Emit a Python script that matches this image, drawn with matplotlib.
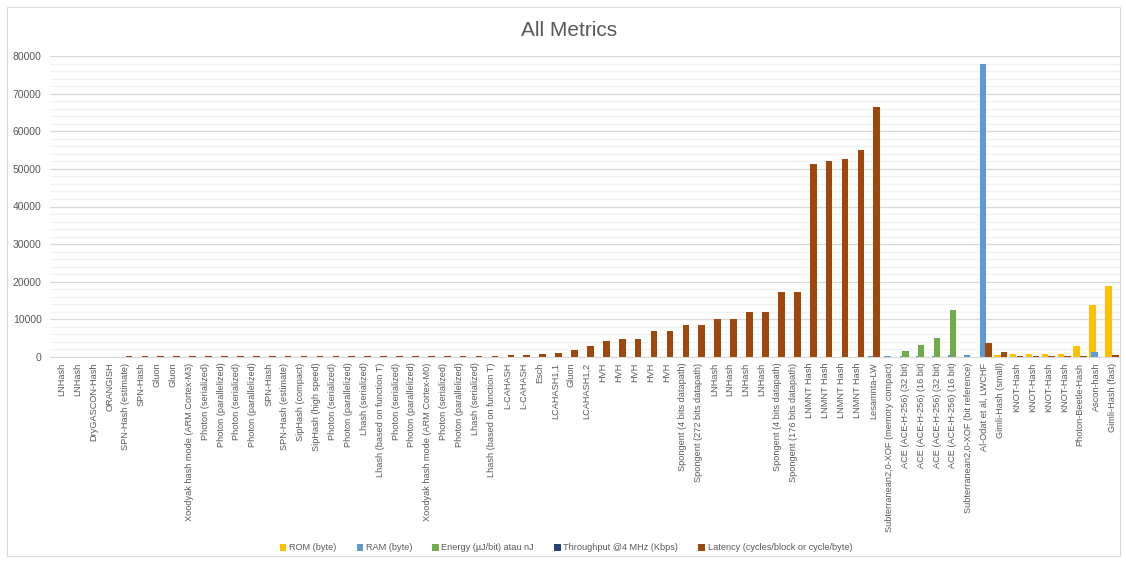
import numpy as np
import matplotlib
matplotlib.use("Agg")
import matplotlib.pyplot as plt
from matplotlib.patches import Rectangle

plt.rcParams["font.family"] = ["Liberation Sans", "DejaVu Sans"]

# ---- data ----
schemes = [
    "LNHash", "LNHash", "DryGASCON-Hash", "ORANGISH", "SPN-Hash (estimate)",
    "SPN-Hash", "Gluon", "Gluon", "Xoodyak hash mode (ARM Cortex-M3)",
    "Photon (serialized)", "Photon (parallelized)", "Photon (serialized)",
    "Photon (parallelized)", "SPN-Hash", "SPN-Hash (estimate)", "SipHash (compact)",
    "SipHash (high speed)", "Photon (serialized)", "Photon (parallelized)",
    "Lhash (serialized)", "Lhash (based on function T)", "Photon (serialized)",
    "Photon (parallelized)", "Xoodyak hash mode (ARM Cortex-M0)", "Photon (serialized)",
    "Photon (parallelized)", "Lhash (serialized)", "Lhash (based on function T)",
    "L-CAHASH", "L-CAHASH", "Esch", "LCAHASH1,1", "Gluon", "LCAHASH1,2",
    "HVH", "HVH", "HVH", "HVH", "HVH",
    "Spongent (4 bits datapath)", "Spongent (272 bits datapath)",
    "LNHash", "LNHash", "LNHash", "LNHash",
    "Spongent (4 bits datapath)", "Spongent (176 bits datapath)",
    "LNMNT Hash", "LNMNT Hash", "LNMNT Hash", "LNMNT Hash", "Lesamnta-LW",
    "Subterranean2,0-XOF (memory compact)", "ACE (ACE-H-256) (32 bit)",
    "ACE (ACE-H-256) (16 bit)", "ACE (ACE-H-256) (32 bit)", "ACE (ACE-H-256) (16 bit)",
    "Subterranean2,0-XOF (bit reference)", "Al-Odat et al, LWCHF", "Gimli-Hash (small)",
    "KNOT-Hash", "KNOT-Hash", "KNOT-Hash", "KNOT-Hash", "Photon-Beetle-Hash",
    "Ascon-hash", "Gimli-Hash (fast)",
]

rom = [0] * 59 + [650, 900, 900, 900, 900, 3000, 13700, 19000]

ram = [0] * 51 + [200, 300, 300, 300, 300, 400, 600, 78000, 0,
                  0, 0, 0, 0, 0, 1300, 0]

energy = [0] * 53 + [1500, 3300, 5000, 12500] + [0] * 10

throughput = [0] * 67

latency = [
    0, 0, 0, 0, 200, 210, 210, 220, 220, 230, 230, 230, 240, 240, 240, 250,
    250, 250, 260, 260, 270, 270, 280, 280, 290, 320, 350, 380, 420, 500,
    800, 1000, 1900, 2800, 4200, 4900, 4900, 7000, 7000, 8500, 8500,
    10200, 10200, 12000, 12000, 17200, 17200,
    51200, 52000, 52700, 55100, 66400,
    0, 0, 0, 0, 0, 0, 3700, 1450, 250, 250, 250, 250, 250, 0, 650,
]

series_names = ["ROM (byte)", "RAM (byte)", "Energy (µJ/bit) atau nJ",
                "Throughput @4 MHz (Kbps)", "Latency (cycles/block or cycle/byte)"]
series_vals = [rom, ram, energy, throughput, latency]
series_colors = ["#FFC000", "#5B9BD5", "#70AD47", "#264478", "#9E480E"]

# ---- figure ----
fig = plt.figure(figsize=(11.26, 5.62), dpi=100)
ax = fig.add_axes([50 / 1126, (562 - 357) / 562, 1070 / 1126, 301 / 562])

x = np.arange(len(schemes))
step = 0.108
width = 0.42
for k, (name, vals, col) in enumerate(zip(series_names, series_vals, series_colors)):
    ax.bar(x + (k - 2) * step, vals, width=width, color=col, label=name,
           zorder=3 + k, linewidth=0)

ax.set_xlim(-0.75, len(schemes) - 0.5)
ax.set_ylim(0, 80000)
ax.set_yticks(np.arange(0, 80001, 10000))
ax.set_yticks(np.arange(0, 80001, 2000), minor=True)
ax.grid(axis="y", which="major", color="#d9d9d9", linewidth=0.9, zorder=0)
ax.grid(axis="y", which="minor", color="#f2f2f2", linewidth=0.9, zorder=0)
ax.set_axisbelow(True)

ax.set_xticks(x)
ax.set_xticklabels(schemes, rotation=90, fontsize=6.6, color="#595959")
ax.tick_params(axis="both", which="both", length=0)
ax.tick_params(axis="y", labelsize=7.5, labelcolor="#595959", pad=6)
ax.tick_params(axis="x", pad=4)

for side in ["top", "right", "left"]:
    ax.spines[side].set_visible(False)
ax.spines["bottom"].set_color("#d9d9d9")

fig.text(569 / 1126, 1 - 30 / 562, "All Metrics", ha="center", va="center",
         fontsize=15, color="#595959")

fig.legend(loc="center", bbox_to_anchor=(566 / 1126, 1 - 548 / 562), ncol=5,
           frameon=False, prop={"family": ["Liberation Sans Narrow", "Liberation Sans"],
                                "size": 6.6},
           labelcolor="#595959",
           handlelength=0.7, handleheight=0.7, handletextpad=0.3,
           columnspacing=2.2)

# chart border
fig.patches.append(Rectangle((7 / 1126, 1 - 556 / 562), 1113 / 1126, 549 / 562,
                             transform=fig.transFigure, fill=False,
                             edgecolor="#d9d9d9", linewidth=0.8))

fig.savefig("out.png", dpi=100)
